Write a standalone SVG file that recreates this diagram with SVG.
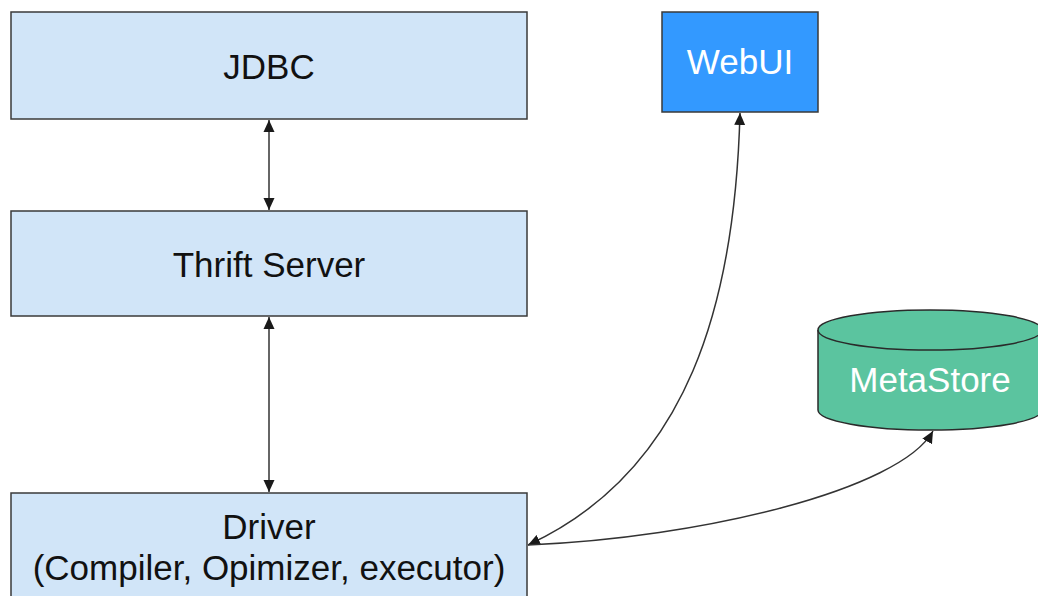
<svg xmlns="http://www.w3.org/2000/svg" width="1038" height="596" viewBox="0 0 1038 596">
<style>
.box{fill:#d1e5f8;stroke:#3a3a3a;stroke-width:1.5}
.t{font-family:"Liberation Sans",Arial,sans-serif;font-size:35px;text-anchor:middle;fill:#111111}
.w{fill:#ffffff}
.c{fill:none;stroke:#333;stroke-width:1.5}
</style>
<defs>
<marker id="ah" viewBox="0 0 12 12" refX="12" refY="6" markerWidth="12" markerHeight="12" markerUnits="userSpaceOnUse" orient="auto-start-reverse">
<path d="M0,0.5 L12,6 L0,11.5 z" fill="#1a1a1a"/>
</marker>
</defs>
<rect width="1038" height="596" fill="#ffffff"/>
<g id="connectors">
<line class="c" x1="269" y1="120" x2="269" y2="210" marker-start="url(#ah)" marker-end="url(#ah)"/>
<line class="c" x1="269" y1="317" x2="269" y2="492" marker-start="url(#ah)" marker-end="url(#ah)"/>
<path class="c" d="M740,113 C735,300 690,470 528,545" marker-start="url(#ah)" marker-end="url(#ah)"/>
<path class="c" d="M933,431 C900,490 700,538 528,545" marker-start="url(#ah)"/>
</g>
<g id="jdbc">
<rect class="box" x="11" y="12" width="516" height="107"/>
<text class="t" x="269" y="79">JDBC</text>
</g>
<g id="thrift">
<rect class="box" x="11" y="211" width="516" height="105"/>
<text class="t" x="269" y="277">Thrift Server</text>
</g>
<g id="driver">
<rect class="box" x="11" y="493" width="516" height="110"/>
<text class="t" x="269" y="539">Driver</text>
<text class="t" x="269" y="580">(Compiler, Opimizer, executor)</text>
</g>
<g id="webui">
<rect x="662" y="12" width="156" height="100" fill="#3399ff" stroke="#3a3a3a" stroke-width="1.5"/>
<text class="t w" x="740" y="74">WebUI</text>
</g>
<g id="metastore">
<path d="M818,330 L818,410 A112,20 0 0 0 1042,410 L1042,330" fill="#5bc49f" stroke="#2a2a2a" stroke-width="1.5"/>
<ellipse cx="930" cy="330" rx="112" ry="20" fill="#5bc49f" stroke="#2a2a2a" stroke-width="1.5"/>
<text class="t w" x="930" y="392">MetaStore</text>
</g>
</svg>
